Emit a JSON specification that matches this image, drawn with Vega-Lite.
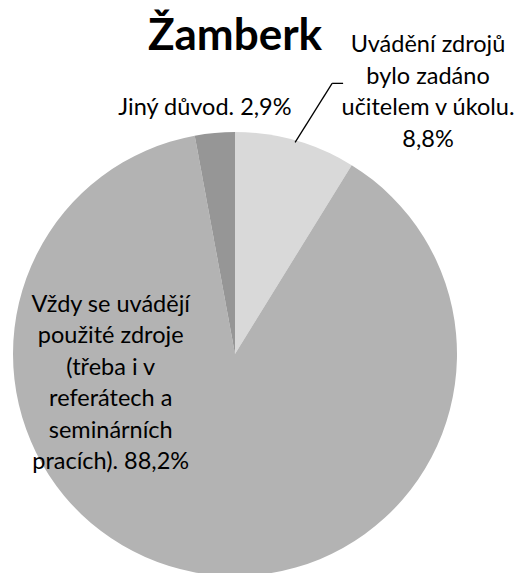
{
  "$schema": "https://vega.github.io/schema/vega-lite/v6.json",
  "autosize": {"type": "none"},
  "width": 470,
  "height": 438,
  "padding": {"left": 0, "top": 135, "right": 55, "bottom": 0},
  "background": "white",
  "config": {"view": {"stroke": null}},
  "data": {"values": [
    {"category": "Uvádění zdrojů bylo zadáno učitelem v úkolu.", "value": 8.8, "order": 1, "label": "Uvádění zdrojů\nbylo zadáno\nučitelem v úkolu.\n8,8%"},
    {"category": "Vždy se uvádějí použité zdroje (třeba i v referátech a seminárních pracích).", "value": 88.2, "order": 2, "label": "Vždy se uvádějí\npoužité zdroje\n(třeba i v\nreferátech a\nseminárních\npracích). 88,2%"},
    {"category": "Jiný důvod.", "value": 2.9, "order": 3, "label": "Jiný důvod. 2,9%"}
  ]},
  "layer": [
    {
      "mark": {"type": "arc", "outerRadius": 222},
      "encoding": {
        "theta": {"field": "value", "type": "quantitative", "stack": true, "scale": {"domain": [0, 99.9]}},
        "order": {"field": "order", "type": "quantitative"},
        "color": {"field": "category", "type": "nominal", "legend": null,
          "scale": {"domain": ["Uvádění zdrojů bylo zadáno učitelem v úkolu.", "Vždy se uvádějí použité zdroje (třeba i v referátech a seminárních pracích).", "Jiný důvod."], "range": ["#d9d9d9", "#b3b3b3", "#969696"]}}
      }
    },
    {
      "transform": [{"filter": "datum.order === 1"}],
      "mark": {"type": "text", "font": "Lato", "fontSize": 44, "fontWeight": "bold", "color": "#000000", "align": "center", "baseline": "alphabetic", "radius": 304},
      "encoding": {
        "theta": {"datum": 0, "type": "quantitative", "scale": {"domain": [0, 99.9]}},
        "text": {"value": "Žamberk"}
      }
    },
    {
      "transform": [
        {"window": [{"op": "sum", "field": "value", "as": "cum"}], "sort": [{"field": "order"}], "frame": [null, 0]},
        {"calculate": "datum.cum - datum.value / 2", "as": "mid"},
        {"filter": "datum.order === 1"}
      ],
      "mark": {"type": "text", "font": "Lato", "fontSize": 23.5, "color": "#000000", "align": "center", "baseline": "alphabetic", "lineBreak": "\n", "lineHeight": 31.5, "radius": 250, "dx": 124.7, "dy": -61.5},
      "encoding": {
        "theta": {"field": "mid", "type": "quantitative", "stack": null, "scale": {"domain": [0, 99.9]}},
        "text": {"field": "label", "type": "nominal"}
      }
    },
    {
      "transform": [
        {"window": [{"op": "sum", "field": "value", "as": "cum"}], "sort": [{"field": "order"}], "frame": [null, 0]},
        {"calculate": "datum.cum - datum.value / 2", "as": "mid"},
        {"filter": "datum.order === 2"}
      ],
      "mark": {"type": "text", "font": "Lato", "fontSize": 23.5, "color": "#000000", "align": "center", "baseline": "alphabetic", "lineBreak": "\n", "lineHeight": 31.5, "radius": 130, "dx": -100.3, "dy": -169.8},
      "encoding": {
        "theta": {"field": "mid", "type": "quantitative", "stack": null, "scale": {"domain": [0, 99.9]}},
        "text": {"field": "label", "type": "nominal"}
      }
    },
    {
      "transform": [
        {"window": [{"op": "sum", "field": "value", "as": "cum"}], "sort": [{"field": "order"}], "frame": [null, 0]},
        {"calculate": "datum.cum - datum.value / 2", "as": "mid"},
        {"filter": "datum.order === 3"}
      ],
      "mark": {"type": "text", "font": "Lato", "fontSize": 23.5, "color": "#000000", "align": "center", "baseline": "alphabetic", "lineBreak": "\n", "lineHeight": 31.5, "radius": 250, "dx": -7.3, "dy": 10},
      "encoding": {
        "theta": {"field": "mid", "type": "quantitative", "stack": null, "scale": {"domain": [0, 99.9]}},
        "text": {"field": "label", "type": "nominal"}
      }
    },
    {
      "transform": [
        {"window": [{"op": "sum", "field": "value", "as": "cum"}], "sort": [{"field": "order"}], "frame": [null, 0]},
        {"calculate": "(datum.cum - datum.value / 2) / 99.9 * 2 * PI", "as": "ang"},
        {"filter": "datum.order === 1"},
        {"calculate": "235 + 220 * sin(datum.ang)", "as": "lx"},
        {"calculate": "219 - 220 * cos(datum.ang)", "as": "ly"},
        {"calculate": "datum.lx + 37", "as": "lx2"},
        {"calculate": "datum.ly - 59", "as": "ly2"}
      ],
      "mark": {"type": "rule", "color": "#000000", "strokeWidth": 1.3},
      "encoding": {
        "x": {"field": "lx", "type": "quantitative", "scale": null},
        "y": {"field": "ly", "type": "quantitative", "scale": null},
        "x2": {"field": "lx2"},
        "y2": {"field": "ly2"}
      }
    },
    {
      "transform": [
        {"window": [{"op": "sum", "field": "value", "as": "cum"}], "sort": [{"field": "order"}], "frame": [null, 0]},
        {"calculate": "(datum.cum - datum.value / 2) / 99.9 * 2 * PI", "as": "ang"},
        {"filter": "datum.order === 1"},
        {"calculate": "235 + 220 * sin(datum.ang) + 37", "as": "hx"},
        {"calculate": "219 - 220 * cos(datum.ang) - 59", "as": "hy"},
        {"calculate": "datum.hx + 11", "as": "hx2"}
      ],
      "mark": {"type": "rule", "color": "#000000", "strokeWidth": 1.3},
      "encoding": {
        "x": {"field": "hx", "type": "quantitative", "scale": null},
        "y": {"field": "hy", "type": "quantitative", "scale": null},
        "x2": {"field": "hx2"},
        "y2": {"field": "hy"}
      }
    }
  ]
}
